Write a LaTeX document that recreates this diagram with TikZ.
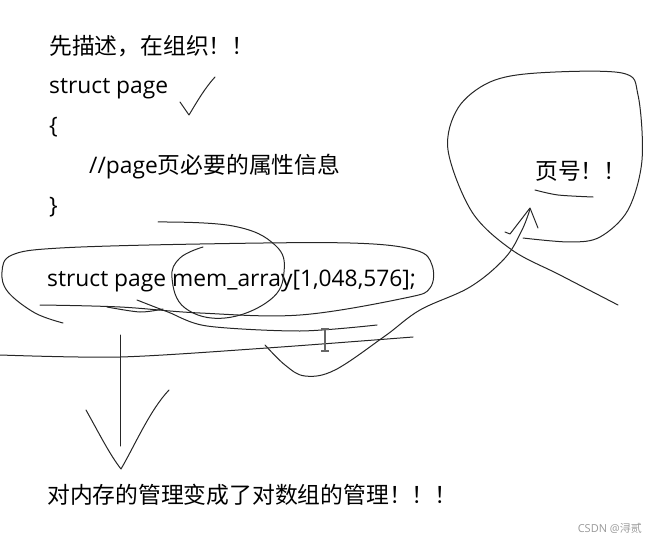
\documentclass[tikz,border=0pt]{standalone}
\usepackage{fontspec}
\setmainfont{Open Sans}
\newfontfamily\cjk{Noto Sans CJK SC}
\begin{document}
\begin{tikzpicture}[x=1pt,y=-1pt,
  txt/.style={anchor=base west,inner sep=0pt,font=\fontsize{22.8}{27}\selectfont},
  ink/.style={line width=1pt,draw=black!85,line cap=round,line join=round}]
\useasboundingbox (0,0) rectangle (648,540);
% texts
\node[txt] (t1) at (49,55) {\cjk 先描述，在组织！！};
\node[txt] (t2) at (49,94) {struct page};
\node[txt] (t3) at (49,134) {\{};
\node[txt] (t4) at (89,174) {//page\cjk 页必要的属性信息};
\node[txt] (t5) at (49,214) {\}};
\node[txt] (t6) at (47,286) {struct page mem\_array[1,048,576];};
\node[txt] (t7) at (535,180) {\cjk 页号！！};
\node[txt] (t8) at (47,503) {\cjk 对内存的管理变成了对数组的管理！！！};
\node[anchor=base east,inner sep=0pt,text=black!40,font=\fontsize{11}{13}\selectfont] (wm) at (642,532) {CSDN @\cjk 浔贰};
% check mark
\draw[ink] (180,102) -- (189,115) .. controls (198,100) and (205,88) .. (215,77);
% big ellipse around declaration
\draw[ink] plot[smooth,tension=0.6] coordinates {(63,323) (35,313) (8,292) (2,272) (12,255) (60,248) (200,244) (350,243) (415,250) (432,265) (430,288) (405,298) (300,315) (200,313) (120,307) (40,305)};
% small circle around mem_array
\draw[ink] plot[smooth,tension=0.7] coordinates {(158,222) (233,226) (275,245) (284,272) (270,300) (225,318) (185,308) (172,278) (180,258) (203,247)};
% underline strokes
\draw[ink] plot[smooth] coordinates {(107,307) (140,312) (163,309)};
\draw[ink] plot[smooth,tension=0.5] coordinates {(137,300) (168,312) (207,326) (300,331) (377,325)};
% long horizontal stroke
\draw[ink] plot[smooth,tension=0.5] coordinates {(0,355) (120,357) (267,348) (413,337)};
% down arrow
\draw[ink] (120,335) -- (120,446);
\draw[ink] (86,410) .. controls (100,435) and (110,455) .. (121,469) .. controls (135,445) and (150,410) .. (169,390);
% I-beam cursor
\draw[line width=1.2pt,draw=black!60] (325,329) -- (325,351) (321,329) -- (329,329) (321,351) -- (329,351);
% curve up to page number
\draw[ink] plot[smooth,tension=0.6] coordinates {(265,345) (285,365) (305,376) (335,370) (385,336) (420,310) (470,287) (505,258) (522,230) (530,209)};
\draw[ink] (505,232) -- (510,234) -- (530,208) -- (538,228);
% balloon around page number
\draw[ink] plot[smooth,tension=0.55] coordinates {(618,305) (560,275) (512,250) (472,212) (448,150) (458,108) (490,82) (537,73) (622,73) (638,95) (642,160) (628,210) (600,237) (570,242) (523,238)};
% underline of page number
\draw[ink] plot[smooth] coordinates {(535,190) (558,195) (593,197)};
\end{tikzpicture}
\end{document}
